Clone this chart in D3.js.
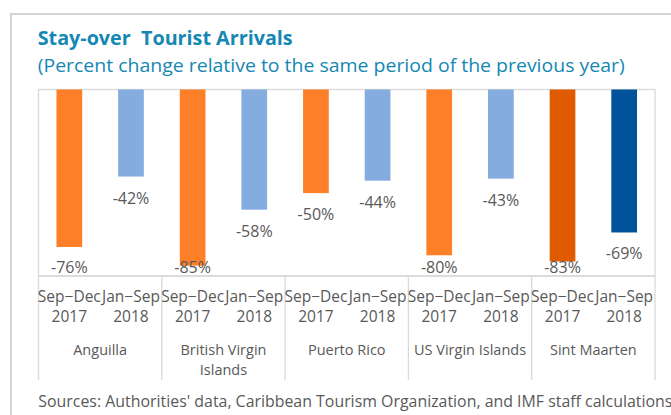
<!DOCTYPE html>
<html>
<head>
<meta charset="utf-8">
<script src="https://cdn.jsdelivr.net/npm/d3@7"></script>
<style>
  html, body { margin: 0; padding: 0; background: #fff; }
  svg { display: block; }
  text { font-family: "Open Sans", "Noto Sans", sans-serif; }
</style>
</head>
<body>
<script>
// ---- data ----
const titleText = "Stay-over\u00a0 Tourist Arrivals";
const subtitleText = "(Percent change relative to the same period of the previous year)";
const sourceText = "Sources: Authorities' data, Caribbean Tourism Organization, and IMF staff calculations";
const countries = ["Anguilla", "British Virgin Islands", "Puerto Rico", "US Virgin Islands", "Sint Maarten"];
const periodTop = ["Sep\u2212Dec", "Jan\u2212Sep"];
const periodBottom = ["2017", "2018"];
const sepDec2017 = [-76, -85, -50, -80, -83];
const janSep2018 = [-42, -58, -44, -43, -69];
const yDomain = [-90, 0];

// ---- layout / style ----
const W = 671, H = 415;
const plot = { left: 38.5, right: 655, top: 89.5, bottom: 276 };
const seriesColors = ["#FD7F27", "#85ACDE"];
const highlightColors = ["#E05A00", "#01539B"];
const highlightCountry = "Sint Maarten";
const gridColor = "#d9d9d9";
const textGray = "#595959";
const titleColor = "#1587B4";

const svg = d3.select("body").append("svg").attr("width", W).attr("height", H);

// outer chart border
svg.append("path")
  .attr("d", `M11,${H + 5} L11,14 L${W + 5},14`)
  .attr("fill", "none").attr("stroke", "#d4d4d4").attr("stroke-width", 2);

// title & subtitle
svg.append("text").attr("x", 37.7).attr("y", 45)
  .attr("fill", titleColor).attr("font-weight", 700).attr("font-size", 20)
  .attr("textLength", 255).attr("lengthAdjust", "spacingAndGlyphs")
  .text(titleText);
svg.append("text").attr("x", 37.7).attr("y", 71.5)
  .attr("fill", titleColor).attr("font-size", 19)
  .attr("textLength", 587).attr("lengthAdjust", "spacingAndGlyphs")
  .text(subtitleText);

// rows: one per bar
const rows = [];
countries.forEach((c, i) => {
  [sepDec2017[i], janSep2018[i]].forEach((v, j) => {
    rows.push({ country: c, ci: i, pi: j, key: c + "|" + j, value: v });
  });
});

const x = d3.scaleBand()
  .domain(rows.map(d => d.key))
  .range([plot.left, plot.right])
  .paddingInner(0.583).paddingOuter(0.2915);
const step = x.step();

const y = d3.scaleLinear().domain(yDomain).range([plot.bottom, plot.top]);

// plot area border
svg.append("rect")
  .attr("x", plot.left).attr("y", plot.top)
  .attr("width", plot.right - plot.left).attr("height", plot.bottom - plot.top)
  .attr("fill", "none").attr("stroke", gridColor).attr("stroke-width", 1.3);

// bars
svg.append("g").selectAll("rect").data(rows).join("rect")
  .attr("x", d => x(d.key))
  .attr("y", y(0))
  .attr("width", x.bandwidth())
  .attr("height", d => y(d.value) - y(0))
  .attr("fill", d => (d.country === highlightCountry ? highlightColors : seriesColors)[d.pi]);

// data labels
svg.append("g").selectAll("text").data(rows).join("text")
  .attr("x", d => x(d.key) + x.bandwidth() / 2)
  .attr("y", d => Math.min(y(d.value) + 27, plot.bottom - 3))
  .attr("text-anchor", "middle")
  .attr("font-size", 16)
  .attr("fill", textGray)
  .text(d => "-" + Math.abs(d.value) + "%");

// category axis (two-level)
const axisG = svg.append("g");
axisG.append("line")
  .attr("x1", plot.left).attr("x2", plot.right)
  .attr("y1", plot.bottom).attr("y2", plot.bottom)
  .attr("stroke", gridColor).attr("stroke-width", 1.3);

const groupW = step * 2;
const boundaries = d3.range(countries.length + 1).map(i => plot.left + i * groupW);
axisG.selectAll("line.sep").data(boundaries).join("line")
  .attr("class", "sep")
  .attr("x1", d => d).attr("x2", d => d)
  .attr("y1", plot.bottom).attr("y2", 380)
  .attr("stroke", gridColor).attr("stroke-width", 1.3);

const periodLabels = axisG.selectAll("text.period").data(rows).join("text")
  .attr("class", "period")
  .attr("text-anchor", "middle")
  .attr("font-size", 15.5)
  .attr("fill", textGray);
periodLabels.append("tspan")
  .attr("x", d => x(d.key) + x.bandwidth() / 2).attr("y", 302.3)
  .text(d => periodTop[d.pi]);
periodLabels.append("tspan")
  .attr("x", d => x(d.key) + x.bandwidth() / 2).attr("y", 322.3)
  .text(d => periodBottom[d.pi]);

// country labels with wrapping
countries.forEach((c, i) => {
  const cx = plot.left + (i + 0.5) * groupW;
  const t = axisG.append("text")
    .attr("text-anchor", "middle").attr("font-size", 14.5).attr("fill", textGray);
  const words = c.split(" ");
  let line = [];
  let lineNo = 0;
  let ts = t.append("tspan").attr("x", cx).attr("y", 355);
  words.forEach(w => {
    line.push(w);
    ts.text(line.join(" "));
    if (ts.node().getComputedTextLength() > groupW - 2 && line.length > 1) {
      line.pop();
      ts.text(line.join(" "));
      line = [w];
      lineNo++;
      ts = t.append("tspan").attr("x", cx).attr("y", 355 + lineNo * 19.5).text(w);
    }
  });
});

// source note
svg.append("text").attr("x", 38.3).attr("y", 406.5)
  .attr("font-size", 15.5).attr("fill", textGray)
  .attr("textLength", 634).attr("lengthAdjust", "spacingAndGlyphs")
  .text(sourceText);
</script>
</body>
</html>
